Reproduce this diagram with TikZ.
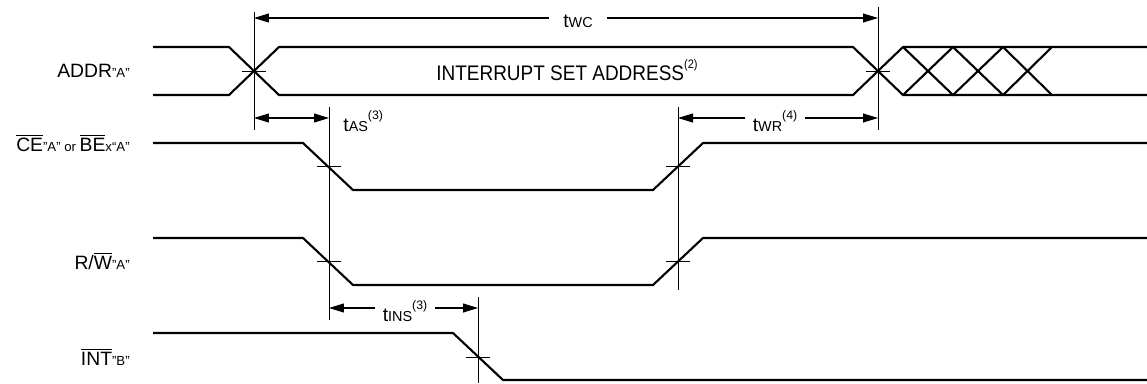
\documentclass[tikz,border=0pt]{standalone}
\usepackage{fontspec}
\setmainfont{Liberation Sans}
\newfontfamily\tallfont[FakeStretch=0.9]{Liberation Sans}
\usetikzlibrary{arrows.meta}
\newcommand{\sml}[1]{{\fontsize{7.5}{8}\selectfont #1}}
\newcommand{\tsub}[1]{{\fontsize{8.2}{9}\selectfont #1}}
\newcommand{\nte}[1]{\raisebox{1.1ex}{\fontsize{7}{8}\selectfont(#1)}}
\newcommand{\ovl}[1]{$\overline{\hbox{#1}}$}
\tikzset{
	tip/.tip={Triangle[length=3mm,width=1.8mm]}
}

\begin{document}
\begin{tikzpicture}[x=0.02cm,y=-0.02cm,font=\fontsize{11}{13}\selectfont]
  \tikzstyle{sig}=[line width=1.2pt,line join=miter]
  \tikzstyle{vline}=[line width=0.5pt]
  \tikzstyle{dim}=[line width=0.6pt,-tip]
  \tikzstyle{lbl}=[anchor=east,inner sep=0pt]
  \tikzstyle{tlbl}=[inner xsep=4pt,inner ysep=0pt]
  \useasboundingbox (0,0) rectangle (1147,383);

  % signal names
  \node[lbl] (addr) at (130,71) {ADDR\sml{"A"}};
  \node[lbl] (ce) at (130,143) {\ovl{CE}\sml{"A" or }\ovl{BE}\sml{x“A”}};
  \node[lbl] (rw) at (130,261) {R/\ovl{W}\sml{"A"}};
  \node[lbl] (int) at (130,357) {\ovl{INT}\sml{"B"}};

  % waveforms
  \draw[sig] (153,47) -- (229,47) -- (279,95) -- (853,95) -- (903,47) -- (1147,47);
  \draw[sig] (153,95) -- (229,95) -- (279,47) -- (853,47) -- (903,95) -- (1147,95);
  \draw[sig] (903,47) -- (953,95) -- (1003,47) -- (1052,95);
  \draw[sig] (903,95) -- (953,47) -- (1003,95) -- (1052,47);
  \node[font=\tallfont\fontsize{12}{14}\selectfont] (isa) at (567,70) {INTERRUPT SET ADDRESS\nte{2}};
  \draw[sig] (153,143) -- (303,143) -- (353,190) -- (653,190) -- (703,143) -- (1147,143);
  \draw[sig] (153,238) -- (303,238) -- (353,285) -- (653,285) -- (703,238) -- (1147,238);
  \draw[sig] (153,333) -- (453,333) -- (503,380) -- (1147,380);

  % crossing points
  \foreach \x/\y in {254/71, 878/71, 329/166, 678/166, 329/261, 678/261, 478/357}
    \draw[vline] (\x-12,\y) -- (\x+12,\y);

  % reference lines
  \coordinate (wc1) at (254,18);
  \coordinate (wc2) at (878,18);
  \coordinate (as1) at (254,118);
  \coordinate (as2) at (329,118);
  \coordinate (wr2) at (878,118);
  \coordinate (wr1) at (678,118);
  \coordinate (ins1) at (329,308);
  \coordinate (ins2) at (478,308);
  \draw[vline] (254,12) -- (254,130);
  \draw[vline] (878,7) -- (878,130);
  \draw[vline] (329,107) -- (329,320);
  \draw[vline] (678,107) -- (678,290);
  \draw[vline] (478,297) -- (478,383);

  % timing parameters
  \node[tlbl,inner xsep=8pt] (twc) at (578,21) {t\tsub{WC}};
  \draw[dim] (twc.west |- wc1) -- (wc1);
  \draw[dim] (twc.east |- wc1) -- (wc2);
  \draw[dim,tip-tip] (as1) -- (as2);
  \node[tlbl,anchor=west] (tas) at (336,121) {t\tsub{AS}\nte{3}};
  \node[tlbl] (twr) at (775,121) {t\tsub{WR}\nte{4}};
  \draw[dim] (twr.west |- wr1) -- (wr1);
  \draw[dim] (twr.east |- wr1) -- (wr2);
  \node[tlbl] (tins) at (405,311) {t\tsub{INS}\nte{3}};
  \draw[dim] (tins.west |- ins1) -- (ins1);
  \draw[dim] (tins.east |- ins1) -- (ins2);
\end{tikzpicture}
\end{document}
